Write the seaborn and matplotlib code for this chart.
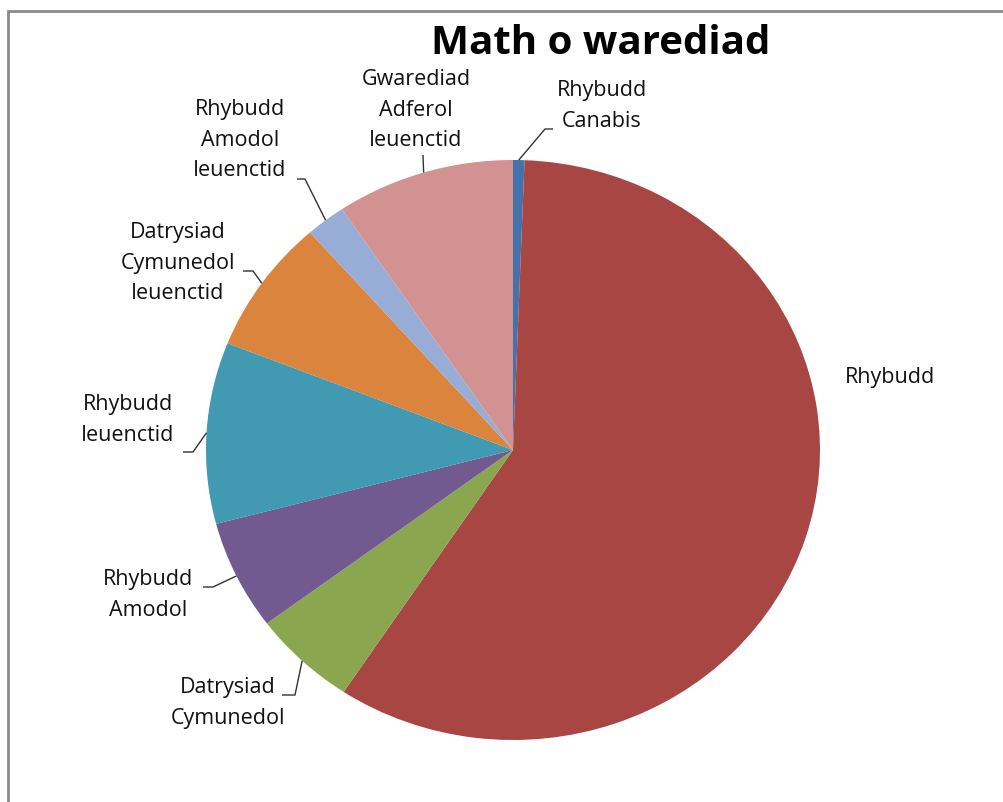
import numpy as np
import matplotlib
matplotlib.use("Agg")
import matplotlib.pyplot as plt
import seaborn as sns
from matplotlib.patches import Rectangle

# Data (percent share of each disposal type)
labels = [
    "Rhybudd\nCanabis",
    "Rhybudd",
    "Datrysiad\nCymunedol",
    "Rhybudd\nAmodol",
    "Rhybudd\nIeuenctid",
    "Datrysiad\nCymunedol\nIeuenctid",
    "Rhybudd\nAmodol\nIeuenctid",
    "Gwarediad\nAdferol\nIeuenctid",
]
values = [0.6, 58.7, 5.5, 6.1, 10.1, 7.5, 2.1, 9.4]
colors = ["#4472AC", "#A84644", "#8AA64F", "#715A8F", "#4199B2",
          "#DB843D", "#97ADD6", "#D29291"]

title = "Math o warediad"

W, H = 1004, 802
CX, CY, RX, RY = 513, 450, 307, 290  # pie centre / radii in pixels


def to_data(px, py):
    return (px - CX) / RX, (CY - py) / RY


# label text centre, leader elbow and tail (pixels); None = no leader
label_pos = [
    ((602, 106), (545, 129), (553, 129)),
    ((890, 377), None, None),
    ((228, 703), (295, 695), (282, 695)),
    ((148, 595), (213, 587), (203, 587)),
    ((128, 420), (193, 452), (183, 452)),
    ((178, 263), (253, 271), (243, 271)),
    ((240, 140), (305, 179), (297, 179)),
    ((416, 110), (423, 155), None),
]

sns.set_style("white")
plt.rcParams["font.family"] = ["Open Sans", "DejaVu Sans"]

fig = plt.figure(figsize=(W / 100, H / 100), dpi=100)
ax = fig.add_axes([(CX - RX) / W, (H - CY - RY) / H, 2 * RX / W, 2 * RY / H])

wedges, _ = ax.pie(values, colors=colors, startangle=90, counterclock=False,
                   radius=1, wedgeprops=dict(linewidth=0))
ax.set_aspect("auto")
ax.set_xlim(-1, 1)
ax.set_ylim(-1, 1)
ax.axis("off")

for w, lab, (tpos, elbow, tail) in zip(wedges, labels, label_pos):
    tx, ty = to_data(*tpos)
    ax.text(tx, ty, lab, ha="center", va="center", fontsize=15.5,
            color="#111111", linespacing=1.6, clip_on=False)
    if elbow is None:
        continue
    ang = np.deg2rad((w.theta1 + w.theta2) / 2)
    mx, my = np.cos(ang), np.sin(ang)
    ex, ey = to_data(*elbow)
    xs, ys = [mx, ex], [my, ey]
    if tail is not None:
        sx, sy = to_data(*tail)
        xs.append(sx)
        ys.append(sy)
    ax.plot(xs, ys, color="#333333", lw=1, clip_on=False,
            solid_capstyle="butt")

fig.text(601 / W, 1 - 43 / H, title, ha="center", va="center",
         fontsize=29, fontweight="bold", color="black")

fig.patches.append(Rectangle((8 / W, -0.1), 1.2, 1 - 11 / H + 0.1,
                             transform=fig.transFigure, fill=False,
                             edgecolor="#898989", lw=2))

fig.savefig("out.png", dpi=100)
